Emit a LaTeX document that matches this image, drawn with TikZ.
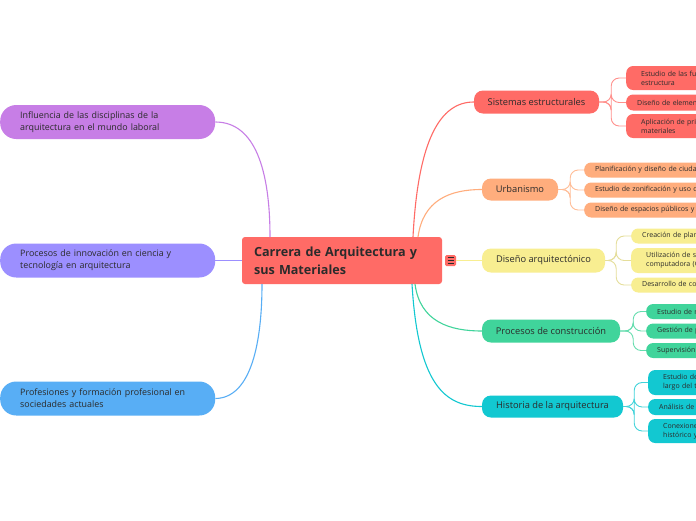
\documentclass[tikz,border=0pt]{standalone}
\usepackage{fontspec}
\setmainfont{Open Sans}
\definecolor{cred}{HTML}{FF6B66}
\definecolor{corange}{HTML}{FFAD7D}
\definecolor{cyellow}{HTML}{F8EE91}
\definecolor{cgreen}{HTML}{40D49B}
\definecolor{cteal}{HTML}{12C8D1}
\definecolor{cpurple}{HTML}{C77EE6}
\definecolor{cperi}{HTML}{9C8FFF}
\definecolor{cblue}{HTML}{58AEF5}
\definecolor{txt}{HTML}{2B2B2B}
\tikzset{
  mainbox/.style={rounded corners=9pt, inner sep=0pt, text=txt, font=\fontsize{9.3}{11}\selectfont},
  leftbox/.style={rounded corners=16pt, anchor=west, inner xsep=20pt, inner ysep=0pt, text width=175pt, minimum height=34pt, align=left, text=txt, font=\fontsize{8.9}{12}\selectfont},
  subbox/.style={rounded corners=7pt, anchor=west, inner xsep=11pt, inner ysep=0pt, text width=200pt, align=left, text=txt, font=\fontsize{7}{9}\selectfont},
  subbox2/.style={subbox, inner xsep=15pt},
  conn/.style={line width=1.1pt},
  subconn/.style={line width=0.9pt, rounded corners=8pt},
}
\begin{document}
\begin{tikzpicture}[x=1pt,y=-1pt]
\useasboundingbox (0,0) rectangle (696,520);
\clip (0,0) rectangle (696,520);
\fill[white] (0,0) rectangle (696,520);

% central node
\node[fill=cred, rounded corners=3pt, minimum width=200pt, minimum height=47pt, inner xsep=12pt, text width=176pt, align=left, text=txt, font=\fontsize{12.6}{18}\selectfont\bfseries] (C) at (342,260.5) {Carrera de Arquitectura y\\sus Materiales};
\node[fill=cred, rounded corners=1.5pt, minimum size=11pt, inner sep=0pt] (ic) at (450.5,260.5) {};
\draw[txt, line width=0.7pt] (447.5,257.5) -- (453.5,257.5) (447.5,260.5) -- (453.5,260.5) (447.5,263.5) -- (453.5,263.5);

% left nodes
\node[leftbox, fill=cpurple] (L1) at (0,122) {Influencia de las disciplinas de la\\arquitectura en el mundo laboral};
\node[leftbox, fill=cperi] (L2) at (0,260.5) {Procesos de innovación en ciencia y\\tecnología en arquitectura};
\node[leftbox, fill=cblue] (L3) at (0,398.5) {Profesiones y formación profesional en\\sociedades actuales};

% main nodes
\node[mainbox, fill=cred, minimum width=125pt, minimum height=23pt] (S) at (536.5,102) {Sistemas estructurales};
\node[mainbox, fill=corange, minimum width=76pt, minimum height=22pt] (U) at (520,189.5) {Urbanismo};
\node[mainbox, fill=cyellow, minimum width=123pt, minimum height=24pt] (D) at (543.5,260.5) {Diseño arquitectónico};
\node[mainbox, fill=cgreen, minimum width=138pt, minimum height=23pt] (P) at (551,331) {Procesos de construcción};
\node[mainbox, fill=cteal, minimum width=141pt, minimum height=22pt] (H) at (552.5,406.5) {Historia de la arquitectura};

% sub nodes
\node[subbox2, fill=cred, minimum height=24pt] (s1) at (626,78) {Estudio de las fuerzas que actúan en una\\estructura};
\node[subbox, fill=cred, minimum height=16pt] (s2) at (626,102.5) {Diseño de elementos estructurales};
\node[subbox2, fill=cred, minimum height=24pt] (s3) at (626,126) {Aplicación de principios de resistencia de\\materiales};

\node[subbox, fill=corange, minimum height=15pt] (u1) at (584,170) {Planificación y diseño de ciudades};
\node[subbox, fill=corange, minimum height=15pt] (u2) at (584,190) {Estudio de zonificación y uso de suelo};
\node[subbox, fill=corange, minimum height=15pt] (u3) at (584,210) {Diseño de espacios públicos y áreas verdes};

\node[subbox, fill=cyellow, minimum height=15pt] (d1) at (631,236) {Creación de planos y maquetas};
\node[subbox2, fill=cyellow, minimum height=25pt] (d2) at (631,260.5) {Utilización de software de diseño asistido por\\computadora (CAD)};
\node[subbox, fill=cyellow, minimum height=15pt] (d3) at (631,285) {Desarrollo de conceptos arquitectónicos};

\node[subbox, fill=cgreen, minimum height=15pt] (p1) at (646,311.5) {Estudio de materiales de construcción};
\node[subbox, fill=cgreen, minimum height=15pt] (p2) at (646,331) {Gestión de proyectos};
\node[subbox, fill=cgreen, minimum height=15pt] (p3) at (646,350.5) {Supervisión de obras};

\node[subbox2, fill=cteal, minimum height=25pt] (h1) at (648,382.5) {Estudio de estilos arquitectónicos a lo\\largo del tiempo};
\node[subbox, fill=cteal, minimum height=16pt] (h2) at (648,407) {Análisis de obras emblemáticas};
\node[subbox2, fill=cteal, minimum height=24pt] (h3) at (648,431) {Conexiones entre el contexto\\histórico y la arquitectura};

% connectors: left
\coordinate (cL1) at (270,237);
\coordinate (cL3) at (262,284);
\draw[conn, cpurple] (L1.east) .. controls (255,122) and (270,170) .. (cL1);
\draw[conn, cperi] (L2.east) -- (C.west);
\draw[conn, cblue] (L3.east) .. controls (252,398) and (262,340) .. (cL3);

% connectors: right
\coordinate (cS) at (413,237);
\coordinate (cU) at (418,237);
\coordinate (cP) at (415,284);
\coordinate (cH) at (412,284);
\draw[conn, cred] (cS) .. controls (418,140) and (440,102) .. (S.west);
\draw[conn, corange] (cU) .. controls (423,200) and (450,189.5) .. (U.west);
\draw[conn, cyellow] (ic.east) -- (D.west);
\draw[conn, cgreen] (cP) .. controls (420,322) and (450,331) .. (P.west);
\draw[conn, cteal] (cH) .. controls (418,385) and (445,406.5) .. (H.west);

% sub connectors
\foreach \c in {s1,s2,s3} \draw[subconn, cred!75!white] (S.east) -- ++(12,0) |- (\c.west);
\foreach \c in {u1,u2,u3} \draw[subconn, corange!80!white] (U.east) -- ++(12,0) |- (\c.west);
\foreach \c in {d1,d2,d3} \draw[subconn, cyellow!90!black!80!white] (D.east) -- ++(11,0) |- (\c.west);
\foreach \c in {p1,p2,p3} \draw[subconn, cgreen!80!white] (P.east) -- ++(13,0) |- (\c.west);
\foreach \c in {h1,h2,h3} \draw[subconn, cteal!80!white] (H.east) -- ++(11,0) |- (\c.west);
\end{tikzpicture}
\end{document}
